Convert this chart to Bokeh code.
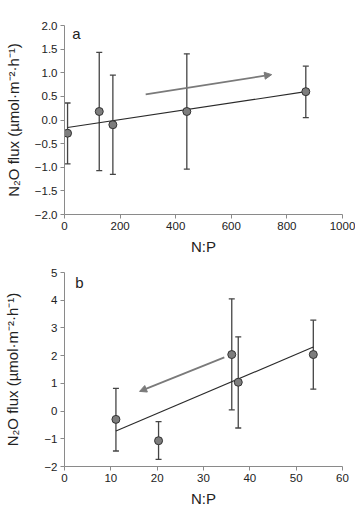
from bokeh.plotting import figure
from bokeh.layouts import column
from bokeh.models import (ColumnDataSource, Whisker, TeeHead, Arrow, NormalHead,
                          Range1d, FixedTicker, Label)
from bokeh.embed import file_html
from bokeh.resources import INLINE

# ---- Data panel a ----
a_np = [11, 125, 174, 440, 868]
a_flux = [-0.28, 0.18, -0.10, 0.18, 0.60]
a_upper = [0.36, 1.43, 0.95, 1.40, 1.14]
a_lower = [-0.93, -1.07, -1.15, -1.04, 0.05]
a_trend_x = [11, 868]
a_trend_y = [-0.16, 0.60]
a_arrow = [292, 0.54, 745, 0.96]
a_yticks = [-2.0, -1.5, -1.0, -0.5, 0.0, 0.5, 1.0, 1.5, 2.0]
a_xticks = [0, 200, 400, 600, 800, 1000]

# ---- Data panel b ----
b_np = [11.1, 20.3, 36.1, 37.5, 53.7]
b_flux = [-0.30, -1.07, 2.04, 1.04, 2.04]
b_upper = [0.82, -0.38, 4.05, 2.68, 3.28]
b_lower = [-1.44, -1.74, 0.04, -0.61, 0.79]
b_trend_x = [11.1, 53.7]
b_trend_y = [-0.72, 2.31]
b_arrow = [34.5, 1.94, 16.2, 0.71]
b_yticks = [-2, -1, 0, 1, 2, 3, 4, 5]
b_xticks = [0, 10, 20, 30, 40, 50, 60]

FONT = "Liberation Sans"
YTITLE = "N\u2082O flux (\u00b5mol\u00b7m\u207b\u00b2\u00b7h\u207b\u00b9)"
AXIS_COL = "#8a8a8a"
TXT = "#222222"


def fmt(v, dec):
    s = f"{abs(v):.{dec}f}"
    return ("\u2212" + s) if v < 0 else s


def make_panel(xs, ys, up, lo, tx, ty, arrow, xt, yt, xr, yr, dec, letter,
               letter_pos, fh, top, bottom, title_standoff):
    p = figure(frame_width=278, frame_height=fh, output_backend="svg",
               toolbar_location=None, x_range=Range1d(*xr), y_range=Range1d(*yr),
               min_border_left=64, min_border_right=13,
               min_border_top=top, min_border_bottom=bottom)
    p.outline_line_color = None
    p.xgrid.visible = False
    p.ygrid.visible = False
    p.background_fill_color = "white"
    p.border_fill_color = "white"

    for ax in (p.xaxis[0], p.yaxis[0]):
        ax.axis_line_color = AXIS_COL
        ax.major_tick_line_color = AXIS_COL
        ax.minor_tick_line_color = None
        ax.major_tick_in = 0
        ax.major_tick_out = 4
        ax.major_label_text_font = FONT
        ax.major_label_text_font_size = "11.5px"
        ax.major_label_text_color = TXT
        ax.axis_label_text_font = FONT
        ax.axis_label_text_font_size = "15px"
        ax.axis_label_text_font_style = "normal"
        ax.axis_label_text_color = TXT

    p.xaxis.ticker = FixedTicker(ticks=xt)
    p.yaxis.ticker = FixedTicker(ticks=yt)
    p.xaxis.major_label_overrides = {v: str(v) for v in xt}
    p.yaxis.major_label_overrides = {v: fmt(v, dec) for v in yt}
    p.xaxis.axis_label = "N:P"
    p.yaxis.axis_label = YTITLE
    p.xaxis.major_label_standoff = 3
    p.yaxis.major_label_standoff = 3
    p.xaxis.axis_label_standoff = 5
    p.yaxis.axis_label_standoff = title_standoff

    src = ColumnDataSource(dict(x=xs, y=ys, up=up, lo=lo))
    w = Whisker(base="x", upper="up", lower="lo", source=src, dimension="height",
                line_color="#444444", line_width=1.3,
                upper_head=TeeHead(size=6, line_color="#444444", line_width=1.3),
                lower_head=TeeHead(size=6, line_color="#444444", line_width=1.3))
    p.add_layout(w)

    p.line(tx, ty, line_color="#2a2a2a", line_width=1.1)

    p.add_layout(Arrow(x_start=arrow[0], y_start=arrow[1],
                       x_end=arrow[2], y_end=arrow[3],
                       line_color="#7a7a7a", line_width=1.8,
                       end=NormalHead(size=7, fill_color="#7a7a7a",
                                      line_color="#7a7a7a")))

    p.scatter("x", "y", source=src, size=8, fill_color="#7d7d7d",
              line_color="#333333", line_width=1)

    p.add_layout(Label(x=letter_pos[0], y=letter_pos[1], text=letter,
                       text_font=FONT, text_font_size="15px",
                       text_color=TXT, text_baseline="middle",
                       text_align="left"))
    return p


pa = make_panel(a_np, a_flux, a_upper, a_lower, a_trend_x, a_trend_y, a_arrow,
                a_xticks, a_yticks, (0, 1000), (-2.0, 2.0), 1, "a", (28, 1.83),
                189, 25, 43, 10)
pb = make_panel(b_np, b_flux, b_upper, b_lower, b_trend_x, b_trend_y, b_arrow,
                b_xticks, b_yticks, (0, 60), (-2, 5), 0, "b", (2.3, 4.65),
                194, 15, 40, 20)

layout = column(pa, pb)
open("out.html", "w").write(file_html(layout, INLINE))
